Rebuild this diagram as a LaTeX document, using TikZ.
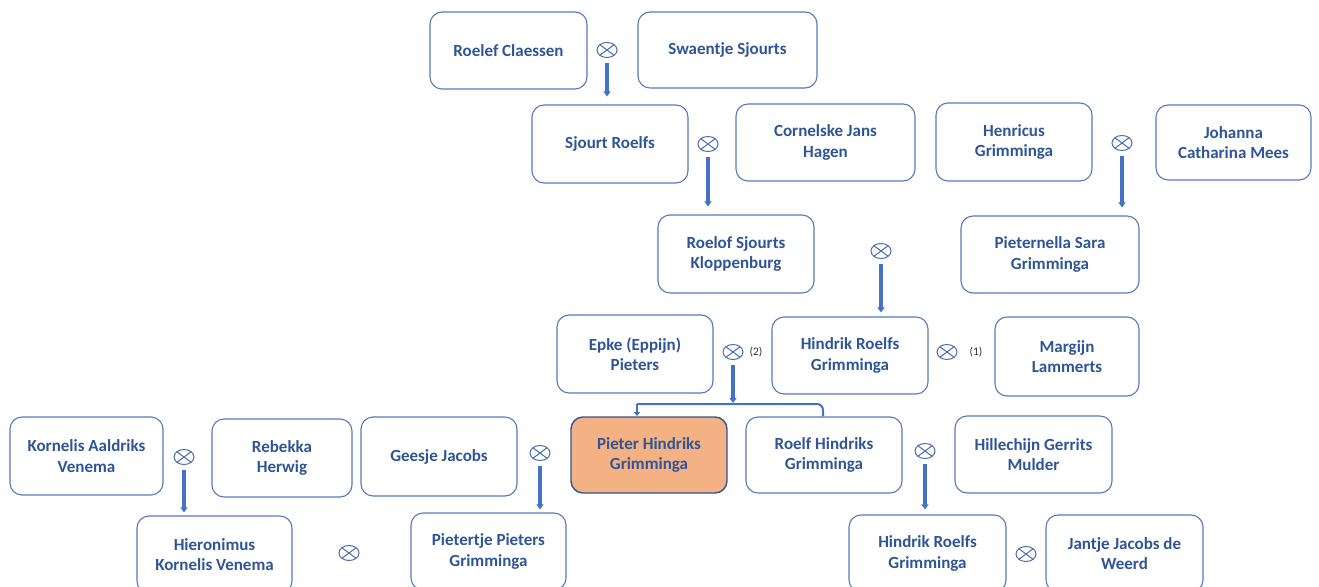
\documentclass[tikz,border=0pt]{standalone}
\usepackage{fontspec}
\setmainfont{Carlito}
\usetikzlibrary{arrows.meta,shapes.geometric,calc}
\definecolor{boxblue}{HTML}{5878BA}
\definecolor{txtblue}{HTML}{2F5597}
\definecolor{arrblue}{HTML}{4472C4}
\definecolor{orangefill}{HTML}{F4B183}
\definecolor{marblue}{HTML}{4A6CB0}
\tikzset{
  person/.style={draw=boxblue, line width=1.1pt, rounded corners=12pt, fill=white,
    align=center, text=txtblue, font=\fontsize{17}{20.5}\selectfont\bfseries,
    inner sep=0pt},
  self/.style={person, fill=orangefill, draw=txtblue, line width=1.4pt},
  marr/.style={ellipse, draw=marblue, line width=1pt, minimum width=20pt,
    minimum height=15pt, inner sep=0pt,
    path picture={\draw[marblue, line width=1pt]
      ([shift={(-7.1pt,-5.3pt)}]path picture bounding box.center) --
      ([shift={(7.1pt,5.3pt)}]path picture bounding box.center)
      ([shift={(-7.1pt,5.3pt)}]path picture bounding box.center) --
      ([shift={(7.1pt,-5.3pt)}]path picture bounding box.center);}},
  desc/.style={line width=3.2pt, draw=arrblue, -{Triangle[length=5pt,width=7pt]},
    shorten <=5pt},
  branch/.style={line width=2pt, draw=arrblue},
  note/.style={font=\fontsize{11.5}{13}\selectfont, text=black!80, inner sep=0pt}
}
\begin{document}
\begin{tikzpicture}[x=1pt,y=-1pt]
\useasboundingbox (0,0) rectangle (1319,586);
\clip (0,0) rectangle (1319,586);
% generation 1
\node[person, minimum width=157pt, minimum height=77pt] (rc) at (508.5,50.5) {Roelef Claessen};
\node[person, minimum width=179pt, minimum height=76pt] (ss) at (727.5,50) {Swaentje Sjourts};
% generation 2
\node[person, minimum width=156pt, minimum height=78pt] (sr) at (610,144) {Sjourt Roelfs};
\node[person, minimum width=179pt, minimum height=77pt] (cjh) at (825.5,142.5) {Cornelske Jans\\Hagen};
\node[person, minimum width=156pt, minimum height=78pt] (hg) at (1014,142) {Henricus\\Grimminga};
\node[person, minimum width=155pt, minimum height=75pt] (jcm) at (1233.5,142.5) {Johanna\\Catharina Mees};
% generation 3
\node[person, minimum width=156pt, minimum height=78pt] (rsk) at (736,254) {Roelof Sjourts\\Kloppenburg};
\node[person, minimum width=178pt, minimum height=77pt] (psg) at (1050,254.5) {Pieternella Sara\\Grimminga};
% generation 4
\node[person, minimum width=156pt, minimum height=78pt] (ep) at (635,354) {Epke (Eppijn)\\Pieters};
\node[person, minimum width=156pt, minimum height=77pt] (hrg) at (850,355.5) {Hindrik Roelfs\\Grimminga};
\node[person, minimum width=144pt, minimum height=79pt] (ml) at (1067,356.5) {Margijn\\Lammerts};
% generation 5
\node[person, minimum width=153pt, minimum height=78pt] (kav) at (86.5,456) {Kornelis Aaldriks\\Venema};
\node[person, minimum width=140pt, minimum height=78pt] (rh) at (282,458) {Rebekka\\Herwig};
\node[person, minimum width=156pt, minimum height=79pt] (gj) at (439,456.5) {Geesje Jacobs};
\node[self, minimum width=156pt, minimum height=76pt] (phg) at (649,455) {Pieter Hindriks\\Grimminga};
\node[person, minimum width=156pt, minimum height=76pt] (rhg) at (824,455) {Roelf Hindriks\\Grimminga};
\node[person, minimum width=157pt, minimum height=77pt] (hgm) at (1033.5,454.5) {Hillechijn Gerrits\\Mulder};
% generation 6
\node[person, minimum width=155pt, minimum height=77pt] (hkv) at (214.5,554.5) {Hieronimus\\Kornelis Venema};
\node[person, minimum width=155pt, minimum height=77pt] (ppg) at (488.5,551.5) {Pietertje Pieters\\Grimminga};
\node[person, minimum width=157pt, minimum height=77pt] (hrb) at (927.5,553.5) {Hindrik Roelfs\\Grimminga};
\node[person, minimum width=157pt, minimum height=77pt] (jjw) at (1124.5,553.5) {Jantje Jacobs de\\Weerd};
% marriage symbols
\node[marr] (m1) at (607,50) {};
\node[marr] (m2) at (708,144) {};
\node[marr] (m3) at (1122,143) {};
\node[marr] (m4) at (881,251) {};
\node[marr] (m5) at (733,352) {};
\node[marr] (m6) at (947,352) {};
\node[marr] (m7) at (184,457) {};
\node[marr] (m8) at (540,453) {};
\node[marr] (m9) at (925,451) {};
\node[marr] (m10) at (349,553) {};
\node[marr] (m11) at (1026,554) {};
\node[note] (n2) at (756,352.5) {(2)};
\node[note] (n1) at (976,352.5) {(1)};
% descent arrows
\draw[desc, shorten >=8pt] (m1.south) -- (m1.south |- sr.north);
\draw[desc, shorten >=8pt] (m2.south) -- (m2.south |- rsk.north);
\draw[desc, shorten >=8pt] (m3.south) -- (m3.south |- psg.north);
\draw[desc, shorten >=4pt] (m4.south) -- (m4.south |- hrg.north);
\draw[desc, shorten >=3pt] (m7.south) -- (m7.south |- hkv.north);
\draw[desc, shorten >=3pt] (m8.south) -- (m8.south |- ppg.north);
\draw[desc, shorten >=5pt] (m9.south) -- (m9.south |- hrb.north);
% branching connector
\coordinate (jl) at (637,404);
\coordinate (jr) at (823,404);
\coordinate (jlb) at (637,416);
\coordinate (jrb) at (823,416);
\draw[desc, shorten >=1pt] (m5.south) -- (m5.south |- jl);
\draw[branch, -{Triangle[length=4pt,width=6pt]}] (jl) -- (jlb);
\draw[branch, rounded corners=6pt] (jl) -- (jr) -- (jrb);
\end{tikzpicture}
\end{document}
